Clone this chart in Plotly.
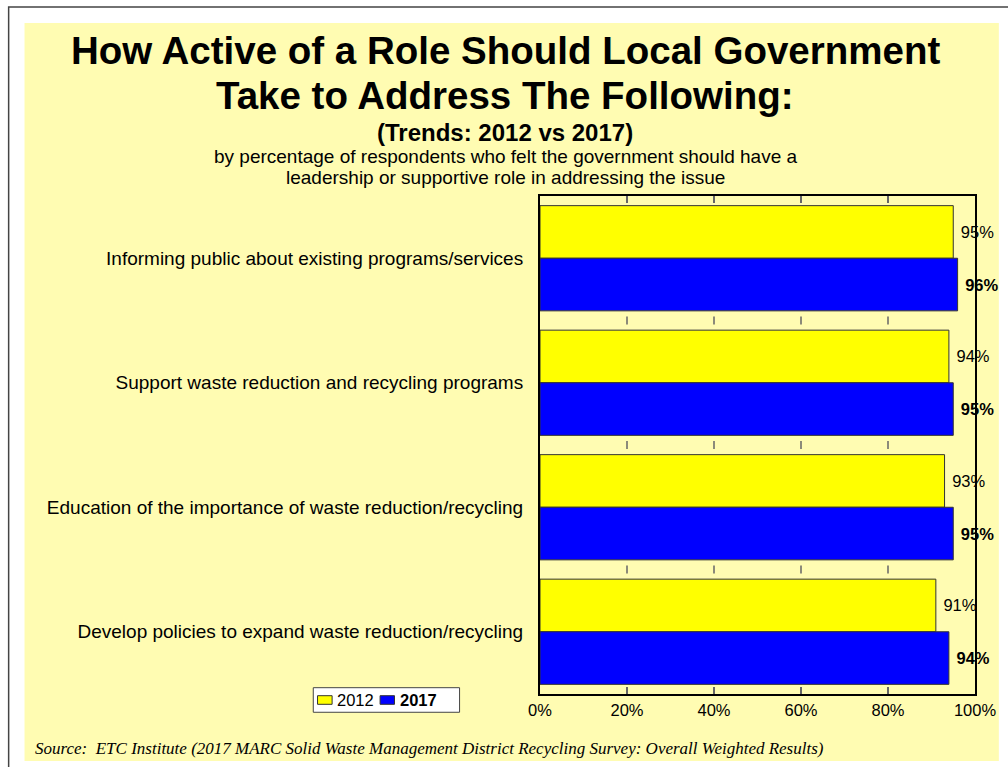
import plotly.graph_objects as go

categories = [
    "Informing public about existing programs/services",
    "Support waste reduction and recycling programs",
    "Education of the importance of waste reduction/recycling",
    "Develop policies to expand waste reduction/recycling",
]
values_2012 = [95, 94, 93, 91]
values_2017 = [96, 95, 95, 94]
x_ticks = [0, 20, 40, 60, 80, 100]
x_tick_labels = [f"{t}%" for t in x_ticks]

TITLE_1 = "How Active of a Role Should Local Government"
TITLE_2 = "Take to Address The Following:"
TRENDS = "(Trends: 2012 vs 2017)"
SUB_1 = "by percentage of respondents who felt the government should have a"
SUB_2 = "leadership or supportive role in addressing the issue"
SOURCE = ("Source:  ETC Institute (2017 MARC Solid Waste Management District "
          "Recycling Survey: Overall Weighted Results)")

PANEL = "#FFFCB2"
FONT = "Liberation Sans, Arial, sans-serif"

# (name, values, colour, bold)
series = [
    ("2012", values_2012, "#FFFF00", False),
    ("2017", values_2017, "#0000FF", True),
]

fig = go.Figure()
for name, vals, color, bold in series:
    tmpl = " %{x}%"
    fig.add_trace(go.Bar(
        y=categories, x=vals, orientation="h", name=name,
        marker=dict(color=color, line=dict(color="#333333", width=1)),
        texttemplate=f"<b>{tmpl}</b>" if bold else tmpl,
        textposition="outside", cliponaxis=False,
        textfont=dict(size=16.5, color="black", family=FONT),
        hoverinfo="skip",
    ))

# outer frame + light yellow panel (paper coords outside the plot domain)
shapes = [
    dict(type="rect", xref="paper", yref="paper", layer="below",
         x0=-1.2215, x1=1.08, y0=-0.16, y1=1.3795,
         line=dict(color="#444444", width=1.5), fillcolor="white"),
    dict(type="rect", xref="paper", yref="paper", layer="below",
         x0=-1.185, x1=1.0548, y0=-0.1345, y1=1.3474,
         line=dict(width=0), fillcolor=PANEL),
]
# small tick marks where the category bands meet
n = len(categories)
for k in range(1, n):
    yb = k / n
    for t in x_ticks[1:-1]:
        shapes.append(dict(type="line", xref="x", yref="paper",
                           x0=t, x1=t, y0=yb - 0.008, y1=yb + 0.008,
                           line=dict(color="#666666", width=1.5)))

annotations = [
    dict(text=f"<b>{TITLE_1}</b>", x=-0.08, y=1.292, font=dict(size=38.5)),
    dict(text=f"<b>{TITLE_2}</b>", x=-0.08, y=1.201, font=dict(size=38.5)),
    dict(text=f"<b>{TRENDS}</b>", x=-0.08, y=1.1285, font=dict(size=24)),
    dict(text=SUB_1, x=-0.08, y=1.0803, font=dict(size=19)),
    dict(text=SUB_2, x=-0.08, y=1.0369, font=dict(size=19)),
    dict(text=f"<i>{SOURCE}</i>", x=-1.1644, y=-0.1104, xanchor="left",
         font=dict(size=17, family="Liberation Serif, Times New Roman, serif")),
]

# boxed legend below the category labels
shapes.append(dict(type="rect", xref="paper", yref="paper",
                   x0=-0.5212, x1=-0.1849, y0=-0.0367, y1=0.01265,
                   line=dict(color="#444444", width=1), fillcolor="white"))
legend_x = [(-0.5114, -0.4779, -0.4703), (-0.3676, -0.3345, -0.3265)]
for (name, _, color, bold), (sx0, sx1, tx) in zip(series, legend_x):
    shapes.append(dict(type="rect", xref="paper", yref="paper",
                       x0=sx0, x1=sx1, y0=-0.0207, y1=-0.0034,
                       line=dict(color="#333333", width=1), fillcolor=color))
    annotations.append(dict(text=f"<b>{name}</b>" if bold else name,
                            x=tx, y=-0.012, xanchor="left", font=dict(size=16.5)))

for a in annotations:
    a.setdefault("xanchor", "center")
    a.update(xref="paper", yref="paper", yanchor="middle", showarrow=False)
    a["font"].setdefault("family", FONT)
    a["font"]["color"] = "black"

fig.update_layout(
    width=1008, height=767,
    margin=dict(l=540, r=30, t=196, b=73),
    paper_bgcolor="white", plot_bgcolor="white",
    barmode="group", bargap=0.155, bargroupgap=0,
    font=dict(family=FONT, color="black"),
    showlegend=False,
    shapes=shapes, annotations=annotations,
)
fig.update_xaxes(
    range=[0, 100], tickvals=x_ticks, ticktext=x_tick_labels,
    showgrid=False, zeroline=False,
    showline=True, linecolor="black", linewidth=2, mirror="ticks",
    ticks="inside", ticklen=7, tickwidth=1.5, tickcolor="#666666",
    tickfont=dict(size=16.5),
)
fig.update_yaxes(
    autorange="reversed", showgrid=False, showline=True, linecolor="black",
    linewidth=2, mirror=True, ticks="", tickfont=dict(size=19),
    ticklabelstandoff=11,
)

fig.write_html("out.html", config={"displayModeBar": False},
               post_script="document.body.style.margin='0px';")
